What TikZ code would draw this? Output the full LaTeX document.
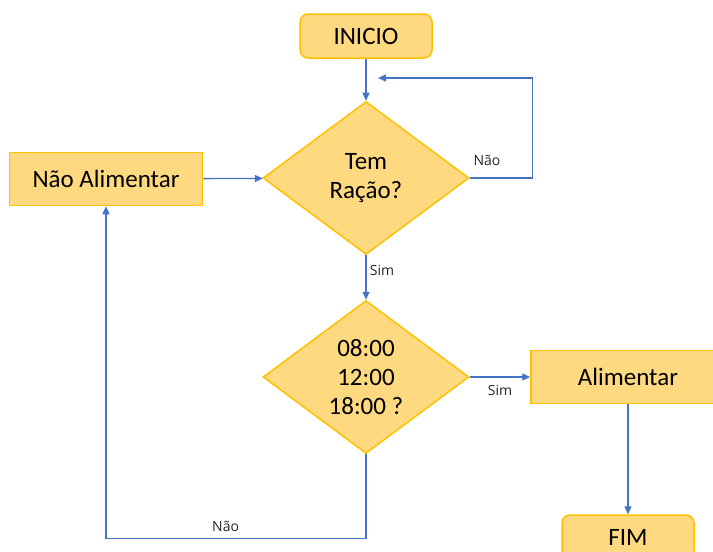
\documentclass[tikz,border=0pt]{standalone}
\usepackage{fontspec}
\setmainfont{Carlito}
\newfontfamily\labelfont{Open Sans}
\usetikzlibrary{shapes.geometric,arrows.meta}
\definecolor{boxfill}{RGB}{255,217,128}
\definecolor{boxline}{RGB}{255,192,0}
\definecolor{flowline}{RGB}{68,114,196}
\definecolor{labeltext}{RGB}{38,38,38}

\begin{document}
\begin{tikzpicture}[x=1pt,y=-1pt,
  every node/.style={font=\fontsize{25}{29}\selectfont},
  terminal/.style={draw=boxline,fill=boxfill,line width=1.5pt,rounded corners=8pt,minimum width=132pt,minimum height=44pt,inner sep=0pt},
  process/.style={draw=boxline,fill=boxfill,line width=1.5pt,minimum width=193pt,minimum height=53pt,inner sep=0pt},
  decision/.style={diamond,draw=boxline,fill=boxfill,line width=1.5pt,minimum width=206pt,minimum height=153pt,inner sep=0pt,align=center},
  flow/.style={draw=flowline,line width=1.3pt,-{Triangle[length=8pt,width=7pt]}},
  edgelabel/.style={font=\labelfont\fontsize{14}{16}\selectfont,text=labeltext}]
            \path[use as bounding box,clip] (0,0) rectangle (713,552);

            \node (inicio) at (366,36) [terminal] {INICIO};
            \node (racao) at (366,178) [decision] {Tem\\Ração?};
            \node (naoalim) at (106,179) [process] {Não Alimentar};
            \node (horario) at (366,377) [decision] {08:00\\12:00\\18:00 ?};
            \node (alim) at (628,377) [process,minimum width=194pt] {Alimentar};
            \node (fim) at (628,537) [terminal] {FIM};
            \coordinate (volta) at (378,78);

            \draw[flow] (inicio) -- (racao);
            \draw[flow] (racao.east) -- ++(63,0) |- (volta);
            \node[edgelabel] (nao1) at (487,160) {Não};
            \draw[flow] (naoalim) -- (racao);
            \draw[flow] (racao) -- node[edgelabel,right,pos=0.35] (sim1) {Sim} (horario);
            \draw[flow] (horario) -- node[edgelabel,below=4pt] (sim2) {Sim} (alim);
            \draw[flow] (alim) -- (fim);
            \draw[flow] (horario.south) -- ++(0,84) -| node[edgelabel,pos=0.27,above=3pt] (nao2) {Não} (naoalim.south);

        \end{tikzpicture}
\end{document}
